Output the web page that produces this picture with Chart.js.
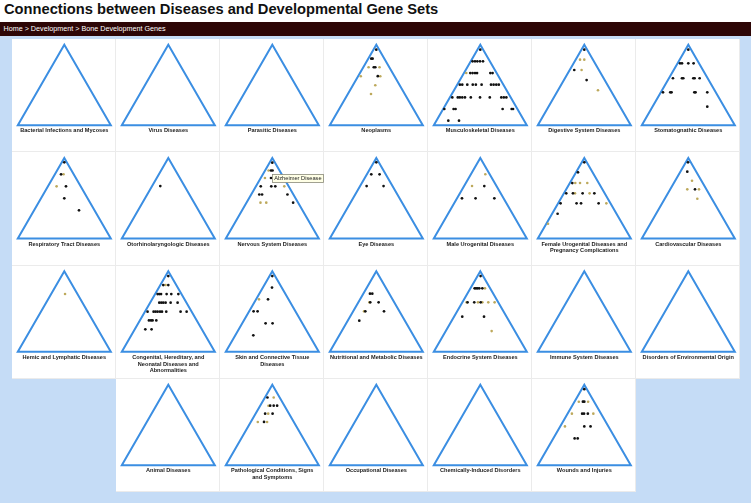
<!DOCTYPE html>
<html>
<head>
<meta charset="utf-8">
<script src="https://cdn.jsdelivr.net/npm/chart.js@4.4.1/dist/chart.umd.min.js"></script>
<style>
  html, body { margin: 0; padding: 0; width: 751px; height: 503px; overflow: hidden; background: #ffffff; font-family: "Liberation Sans", Arial, sans-serif; }
  #title { position: absolute; left: 4px; top: 1px; font-weight: bold; font-size: 14.7px; line-height: 17px; color: #111; white-space: nowrap; }
  #crumb { position: absolute; left: 0; top: 22px; width: 751px; height: 14px; background: #2d0606; color: #fff; font-size: 7.2px; line-height: 14px; padding-left: 3.5px; box-sizing: border-box; white-space: nowrap; -webkit-font-smoothing: antialiased; }
  #back { position: absolute; left: 0; top: 36px; width: 751px; height: 467px; background: #c5dcf6; }
  .panel { position: absolute; background: #fff; box-sizing: border-box; border-right: 1px solid #ebebeb; border-bottom: 1px solid #ebebeb; }
  canvas.tri { position: absolute; }
  .lab { position: absolute; text-align: center; font-weight: bold; font-size: 5.6px; line-height: 6.7px; color: #222; white-space: pre-line; }
</style>
</head>
<body>
<div id="title"></div>
<div id="crumb"></div>
<div id="back"></div>
<script>
// ---- texts ----
const pageTitle = "Connections between Diseases and Developmental Gene Sets";
const breadcrumb = ["Home", "Development", "Bone Development Genes"];

// ---- categories (disease groups), in reading order ----
const categories = [
  "Bacterial Infections and Mycoses", "Virus Diseases", "Parasitic Diseases", "Neoplasms",
  "Musculoskeletal Diseases", "Digestive System Diseases", "Stomatognathic Diseases",
  "Respiratory Tract Diseases", "Otorhinolaryngologic Diseases", "Nervous System Diseases", "Eye Diseases",
  "Male Urogenital Diseases", "Female Urogenital Diseases and\nPregnancy Complications", "Cardiovascular Diseases",
  "Hemic and Lymphatic Diseases", "Congenital, Hereditary, and\nNeonatal Diseases and\nAbnormalities",
  "Skin and Connective Tissue\nDiseases", "Nutritional and Metabolic Diseases", "Endocrine System Diseases",
  "Immune System Diseases", "Disorders of Environmental Origin",
  "Animal Diseases", "Pathological Conditions, Signs\nand Symptoms", "Occupational Diseases",
  "Chemically-Induced Disorders", "Wounds and Injuries"
];

// ---- ternary positions [x across base 0..100, height 0..100], black series ----
const blackPoints = [
  [], [], [],
  [[50,93.8],[44.6,82.6],[46.0,82.6],[47.3,72.0],[48.9,72.0],[51.6,60.9]],
  [[50,93.8],
   [41.7,79.3],[44.3,79.3],[46.8,79.3],[49.7,79.3],[52.9,79.3],
   [39.2,64.8],[41.7,64.8],[44.3,64.8],[46.5,64.8],[60.8,64.8],[63.2,64.8],
   [28.0,50.3],[30.6,50.3],[36.0,50.3],[41.9,50.3],[45.2,50.3],[51.4,50.3],[61.5,50.3],[64.3,50.3],[67.2,50.3],[69.9,50.3],
   [19.9,34.5],[25.8,34.5],[28.0,34.5],[30.6,34.5],[33.5,34.5],[39.8,34.5],[49.7,34.5],[60.2,34.5],[72.6,34.5],[75.3,34.5],[78.0,34.5],
   [11.3,20.1],[21.3,20.1],[23.4,20.1],[74.0,20.1],[83.7,20.1],[85.2,20.1],
   [15.6,5.6],[27.1,5.6]],
  [[50,93.8],[39.2,68.6],[52.5,56.1]],
  [[50,93.8],[41.1,76.9],[43.2,76.9],[50,76.9],[55.7,76.9],
   [33.5,58.3],[43.2,58.3],[44.6,58.3],[55.4,58.3],[56.8,58.3],[62.2,58.3],
   [22.8,40.9],[30.6,40.9],[32.0,40.9],[56.5,40.9],[57.8,40.9],[70.4,40.9],[70.4,23.0]],
  [[50,94.7],[46.5,79.8],[51.8,64.8],[50,49.9],[65.8,35.0]],
  [[41.4,65.2]],
  [[50,94.2],[48.6,84.5],[50.3,84.5],[48.6,75.2],[37.6,64.8],[48.9,64.8],[53.2,64.8],[36.0,54.7],[39.0,54.7],[66.3,54.7],[72.4,44.6]],
  [[50,94.7],[44.6,79.8],[53.5,79.8],[39.6,65.2],[57.8,65.2]],
  [[54.3,65.2],[30.3,49.9],[44.9,49.9],[65.1,49.9]],
  [[50,94.7],[43.2,82.2],[37.1,68.9],[30.6,56.1],[37.8,56.1],[48.2,56.1],[60.8,56.1],[24.5,43.7],[41.7,43.7],[46.5,43.7],[65.4,43.7],[21.3,30.8]],
  [[49.7,94.7],[48.9,83.0],[57.2,61.1]],
  [],
  [[50,94.2],[44.6,83.0],[50,83.0],
   [38.5,71.8],[40.3,71.8],[42.2,71.8],[48.2,71.8],[53.2,71.8],[60.8,71.8],
   [40.3,61.1],[42.5,61.1],[44.6,61.1],[47.1,61.1],[52.5,61.1],[60.0,61.1],
   [27.7,49.9],[34.2,49.9],[36.3,49.9],[38.5,49.9],[41.1,49.9],[43.2,49.9],[47.8,49.9],[63.2,49.9],[69.7,49.9],
   [29.2,39.1],[31.4,39.1],[33.1,39.1],[37.1,39.1],[25.3,28.0],[32.0,28.0]],
  [[50,94.2],[49.7,79.8],[45.4,65.2],[29.9,50.3],[34.2,50.3],[42.8,35.4],[50.3,35.4],[29.6,20.5]],
  [[43.2,72.3],[45.7,72.3],[43.5,61.5],[52.5,61.5],[38.2,50.3],[58.3,50.3],[31.7,38.8]],
  [[50.3,94.2],[43.9,78.9],[45.4,78.9],[47.1,78.9],[48.9,78.9],[52.2,78.9],[36.3,61.5],[43.5,61.5],[50.4,61.5],[30.6,43.7],[54.0,43.7]],
  [], [], [],
  [[44.8,84.1],[47.7,73.9],[51.5,73.9],[55.2,73.9],[42.3,64.0],[50.3,64.0],[41.1,53.7]],
  [], [],
  [[50,94.4],[48.5,78.9],[50,78.9],[47.7,64.0],[49.7,64.0],[53.8,64.0],[50,48.2],[56.7,48.2],[39.6,33.2],[42.9,33.2]]
];

// ---- olive series ----
const olivePoints = [
  [], [], [],
  [[41.7,72.0],[53.5,72.0],[33.3,60.9],[54.3,60.9],[48.9,49.6],[44.3,38.8]],
  [[34.9,64.8]],
  [[45.4,81.4],[50,81.4],[47.1,68.6],[64.7,43.4]],
  [],
  [[49.2,79.8],[41.7,64.8]],
  [],
  [[46.0,84.5],[42.1,75.2],[62.9,64.8],[37.3,44.6],[43.5,44.6]],
  [],
  [[55.4,79.8],[41.1,65.2]],
  [[40.3,68.9],[45.4,68.9],[53.2,68.9],[40.0,56.1],[55.7,56.1],[73.7,43.7],[11.0,18.4]],
  [[54.0,71.8],[48.9,61.1],[61.5,61.1],[59.7,49.4]],
  [[50.8,71.8]],
  [[47.1,83.0]],
  [[35.7,65.2]],
  [[42.5,61.5],[36.8,50.3]],
  [[55.0,78.9],[35.3,61.5],[47.5,61.5],[52.2,61.5],[58.6,61.5],[65.4,61.5],[62.2,25.8]],
  [], [], [],
  [[51.5,84.1],[45.9,73.9],[45.6,64.0],[34.4,53.7],[44.4,53.7]],
  [], [],
  [[44.1,78.9],[54.1,78.9],[36.7,64.0],[59.7,64.0],[29.2,48.2]]
];

// triangle outline in the same ternary space
const triangleOutline = [[100,0],[0,0],[50,100],[100,0],[0,0]];

// hovered point note
const hoverNote = { panel: 9, series: 0, index: 3, text: "Alzheimer Disease" };

// ---- page texts ----
document.getElementById('title').textContent = pageTitle;
document.getElementById('crumb').textContent = breadcrumb.join(" > ");

// ---- layout ----
const COLW = 104, ROWH = 113.33, LEFT0 = 12, TOP0 = 39;
const TRI_W = 93, TRI_H = 80.5;
const CW = 104, CH = 92, MT = 6; // canvas size, margin above apex
const xUnit = TRI_W / 100, yUnit = TRI_H / 100;
const xMargin = (CW - TRI_W) / 2 / xUnit;

const notePlugin = {
  id: 'hoverNote',
  afterDatasetsDraw(chart, args, opts) {
    if (!opts || !opts.text) return;
    const el = chart.getDatasetMeta(opts.series + 1).data[opts.index];
    if (!el) return;
    const ctx = chart.ctx;
    ctx.save();
    ctx.font = '5.7px "Liberation Sans", Arial, sans-serif';
    const tw = ctx.measureText(opts.text).width;
    const bx = Math.round(el.x + 1.5) + 0.5, by = Math.round(el.y - 4) + 0.5;
    const bw = Math.round(tw + 3.5), bh = 8;
    ctx.fillStyle = '#ffffe6';
    ctx.fillRect(bx, by, bw, bh);
    ctx.strokeStyle = '#8a8a7a';
    ctx.lineWidth = 0.8;
    ctx.strokeRect(bx, by, bw, bh);
    ctx.fillStyle = '#222';
    ctx.textBaseline = 'middle';
    ctx.fillText(opts.text, bx + 1.7, by + bh / 2 + 0.3);
    ctx.restore();
  }
};

categories.forEach((name, i) => {
  let col, row;
  if (i < 21) { col = i % 7; row = Math.floor(i / 7); }
  else { col = i - 21 + 1; row = 3; }
  const pl = LEFT0 + COLW * col, pt = TOP0 + ROWH * row;

  const panel = document.createElement('div');
  panel.className = 'panel';
  panel.style.left = pl + 'px';
  panel.style.top = Math.round(pt) + 'px';
  panel.style.width = COLW + 'px';
  panel.style.height = (Math.round(pt + ROWH) - Math.round(pt)) + 'px';
  document.body.appendChild(panel);

  const apexX = pl + 52.3, apexY = pt + 5.7;
  const cl = Math.round(apexX - CW / 2), ct = Math.round(apexY - MT);
  const offX = (apexX - CW / 2) - cl, offY = (apexY - MT) - ct;

  const cv = document.createElement('canvas');
  cv.className = 'tri';
  cv.width = CW; cv.height = CH;
  cv.style.left = cl + 'px'; cv.style.top = ct + 'px';
  cv.style.width = CW + 'px'; cv.style.height = CH + 'px';
  document.body.appendChild(cv);

  const xMin = -xMargin - offX / xUnit;
  const yMax = 100 + (MT + offY) / yUnit;
  const yMin = yMax - CH / yUnit;

  const toXY = arr => arr.map(p => ({ x: p[0], y: p[1] }));

  new Chart(cv.getContext('2d'), {
    type: 'scatter',
    data: {
      datasets: [
        { label: 'outline', data: toXY(triangleOutline), showLine: true, borderColor: '#3b8ee2', borderWidth: 2,
          pointRadius: 0, tension: 0, borderJoinStyle: 'miter', borderCapStyle: 'butt', clip: false, order: 3 },
        { label: 'black', data: toXY(blackPoints[i]), backgroundColor: '#111111', borderWidth: 0, pointRadius: 1.35, clip: false, order: 1 },
        { label: 'olive', data: toXY(olivePoints[i]), backgroundColor: '#bda95c', borderWidth: 0, pointRadius: 1.3, clip: false, order: 2 }
      ]
    },
    options: {
      responsive: false, animation: false, devicePixelRatio: 1, events: [],
      layout: { autoPadding: false, padding: 0 },
      scales: {
        x: { type: 'linear', display: false, min: xMin, max: xMin + CW / xUnit },
        y: { type: 'linear', display: false, min: yMin, max: yMax }
      },
      plugins: {
        legend: { display: false }, tooltip: { enabled: false }, title: { display: false },
        hoverNote: (i === hoverNote.panel) ? hoverNote : false
      }
    },
    plugins: [notePlugin]
  });

  const lab = document.createElement('div');
  lab.className = 'lab';
  lab.textContent = name;
  lab.style.left = (apexX - 52) + 'px';
  lab.style.width = '104px';
  lab.style.top = (apexY + TRI_H + 2.1) + 'px';
  document.body.appendChild(lab);
});
</script>
</body>
</html>
